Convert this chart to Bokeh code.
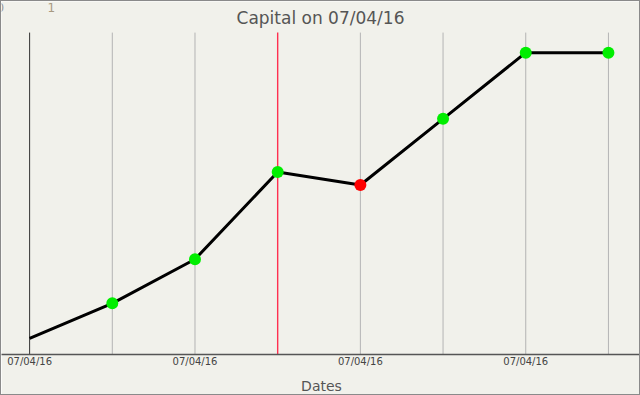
from bokeh.plotting import figure
from bokeh.models import FixedTicker, Range1d, Label
from bokeh.embed import file_html
from bokeh.resources import INLINE

# data
dates = ["07/04/16"] * 8
capital = [1016, 1051, 1095, 1182, 1169, 1235, 1301, 1301]
marker_colors = [None, "#00ee00", "#00ee00", "#00ee00", "#ff0000", "#00ee00", "#00ee00", "#00ee00"]
tick_idx = [0, 2, 4, 6]
title_text = "Capital on 07/04/16"

xs = list(range(len(capital)))
BG = "#f1f1eb"
Y0, PLOT_TOP, Y1 = 1000, 1321, 1352   # range bottom, top of plotting area, top of canvas

p = figure(width=640, height=395, output_backend="svg", toolbar_location=None,
           x_range=Range1d(-0.34, 7.40), y_range=Range1d(Y0, Y1),
           min_border_left=0, min_border_right=0, min_border_top=0, min_border_bottom=41,
           background_fill_color=BG, border_fill_color=BG)
p.styles = {"border": "1px solid #8a8a8a", "box-sizing": "border-box"}

p.yaxis.visible = False
p.ygrid.visible = False
p.xgrid.visible = False
p.outline_line_color = None

p.xaxis.ticker = FixedTicker(ticks=tick_idx)
p.xaxis.major_label_overrides = {i: dates[i] for i in tick_idx}
p.xaxis.major_tick_line_color = None
p.xaxis.major_tick_out = 0
p.xaxis.major_tick_in = 0
p.xaxis.minor_tick_line_color = None
p.xaxis.minor_tick_out = 0
p.xaxis.axis_line_color = "#555555"
p.xaxis.axis_line_width = 1.5
p.xaxis.major_label_text_font = "DejaVu Sans"
p.xaxis.major_label_text_font_size = "10px"
p.xaxis.major_label_text_color = "#444444"
p.xaxis.major_label_standoff = 1
p.xaxis.axis_label = "Dates"
p.xaxis.axis_label_text_font = "DejaVu Sans"
p.xaxis.axis_label_text_font_size = "14px"
p.xaxis.axis_label_text_font_style = "normal"
p.xaxis.axis_label_text_color = "#555555"
p.xaxis.axis_label_standoff = 8

# vertical grid lines (bounded to plotting area)
grid_colors = ["#b4b4b4"] * len(xs)
grid_colors[0] = "#333333"
grid_colors[3] = "#ff3050"
grid_widths = [1] * len(xs)
grid_widths[3] = 1.4
p.segment(x0=xs, y0=[Y0] * len(xs), x1=xs, y1=[PLOT_TOP] * len(xs),
          line_color=grid_colors, line_width=grid_widths)

p.line(xs, capital, line_color="black", line_width=3)
mx = [x for x, c in zip(xs, marker_colors) if c]
my = [y for y, c in zip(capital, marker_colors) if c]
mc = [c for c in marker_colors if c]
p.scatter(mx, my, size=12, fill_color=mc, line_color=None)

# title
p.add_layout(Label(x=319, y=337, x_units="screen", y_units="screen", text=title_text,
                   text_font="DejaVu Sans", text_font_size="17px", text_color="#555555",
                   text_align="center", text_baseline="middle"))
# small leftover scale at top-left
p.add_layout(Label(x=-5, y=347, x_units="screen", y_units="screen", text="0",
                   text_font="DejaVu Sans", text_font_size="12px", text_color="#9a9a9a",
                   text_baseline="middle"))
p.add_layout(Label(x=46, y=347, x_units="screen", y_units="screen", text="1",
                   text_font="DejaVu Sans", text_font_size="12px", text_color="#a89a80",
                   text_baseline="middle"))

open("out.html", "w").write(file_html(p, INLINE))
